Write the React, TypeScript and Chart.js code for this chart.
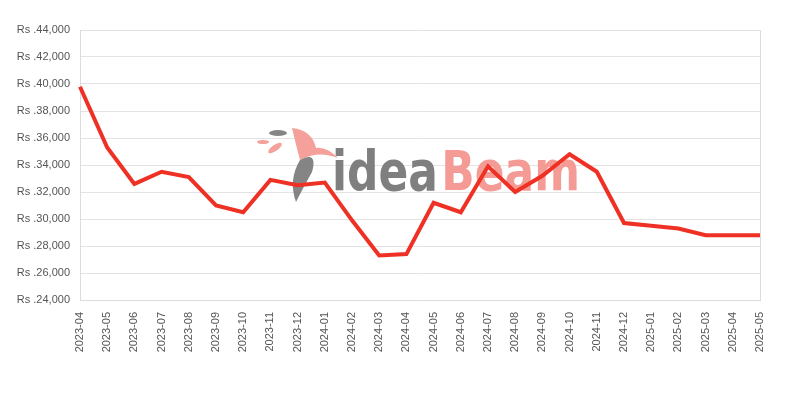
import React, { useEffect, useRef } from "react";
import { Chart, registerables } from "chart.js";

Chart.register(...registerables);

const months = [
  "2023-04", "2023-05", "2023-06", "2023-07", "2023-08", "2023-09", "2023-10",
  "2023-11", "2023-12", "2024-01", "2024-02", "2024-03", "2024-04", "2024-05",
  "2024-06", "2024-07", "2024-08", "2024-09", "2024-10", "2024-11", "2024-12",
  "2025-01", "2025-02", "2025-03", "2025-04", "2025-05",
];

const prices = [
  39800, 35300, 32600, 33500, 33100, 31000, 30500, 32900, 32500, 32700,
  29900, 27300, 27400, 31200, 30500, 33900, 32000, 33200, 34800, 33500,
  29700, 29500, 29300, 28800, 28800, 28800,
];

const yMin = 24000;
const yMax = 44000;
const yStep = 2000;

const watermark = {
  id: "watermark",
  beforeDatasetsDraw(chart: any) {
    const ctx = chart.ctx;
    ctx.save();
    ctx.font = "bold 56px 'DejaVu Sans Condensed', 'DejaVu Sans', sans-serif";
    ctx.textBaseline = "alphabetic";
    const a = "idea";
    const b = "Beam";
    const wa = ctx.measureText(a).width;
    const wb = ctx.measureText(b).width;
    const total = 248;
    const scale = total / (wa + wb + 4);
    const x0 = 332;
    const base = 190;
    ctx.translate(x0, base);
    ctx.scale(scale, 1);
    ctx.fillStyle = "rgba(120,120,120,0.95)";
    ctx.fillText(a, 0, 0);
    ctx.fillStyle = "rgba(244,150,143,0.95)";
    ctx.fillText(b, wa + 4, 0);
    ctx.restore();
    // simple bird mark
    ctx.save();
    ctx.fillStyle = "rgba(244,150,143,0.9)";
    ctx.beginPath();
    ctx.moveTo(292, 128);
    ctx.quadraticCurveTo(312, 130, 316, 148);
    ctx.quadraticCurveTo(326, 146, 338, 158);
    ctx.quadraticCurveTo(318, 150, 300, 160);
    ctx.quadraticCurveTo(296, 145, 292, 128);
    ctx.fill();
    ctx.fillStyle = "rgba(120,120,120,0.9)";
    ctx.beginPath();
    ctx.moveTo(300, 160);
    ctx.quadraticCurveTo(318, 150, 312, 172);
    ctx.quadraticCurveTo(302, 190, 296, 202);
    ctx.quadraticCurveTo(288, 180, 300, 160);
    ctx.fill();
    ctx.beginPath();
    ctx.ellipse(278, 133, 9, 3, 0, 0, Math.PI * 2);
    ctx.fill();
    ctx.fillStyle = "rgba(244,150,143,0.9)";
    ctx.beginPath();
    ctx.ellipse(275, 148, 8, 3, -0.6, 0, Math.PI * 2);
    ctx.fill();
    ctx.beginPath();
    ctx.ellipse(263, 142, 6, 2, 0, 0, Math.PI * 2);
    ctx.fill();
    ctx.restore();
  },
};

const frame = {
  id: "frame",
  beforeDatasetsDraw(chart: any) {
    const { ctx, chartArea } = chart;
    ctx.save();
    ctx.strokeStyle = "#dcdcdc";
    ctx.lineWidth = 1;
    ctx.beginPath();
    ctx.moveTo(Math.round(chartArea.right) + 0.5, chartArea.top);
    ctx.lineTo(Math.round(chartArea.right) + 0.5, chartArea.bottom);
    ctx.stroke();
    ctx.restore();
  },
};

const tickFont = { size: 11, family: "'Liberation Sans', Arial, sans-serif" };

export default function App() {
  const ref = useRef<HTMLCanvasElement>(null);
  useEffect(() => {
    if (!ref.current) return;
    const chart = new Chart(ref.current, {
      type: "line",
      data: {
        labels: months,
        datasets: [
          {
            data: prices,
            borderColor: "#ee3124",
            borderWidth: 4,
            pointRadius: 0,
            tension: 0,
            fill: false,
          },
        ],
      },
      plugins: [watermark, frame],
      options: {
        animation: false,
        responsive: false,
        maintainAspectRatio: false,
        layout: { padding: { left: 0, right: 40, top: 30, bottom: 0 } },
        plugins: { legend: { display: false }, tooltip: { enabled: false } },
        scales: {
          x: {
            offset: false,
            grid: { display: true, drawOnChartArea: false, drawTicks: false, color: "#dcdcdc" },
            border: { color: "#dcdcdc" },
            ticks: {
              maxRotation: 90,
              minRotation: 90,
              autoSkip: false,
              color: "#555",
              padding: 12,
              font: tickFont,
            },
            afterFit(scale: any) {
              scale.height = 100;
            },
          },
          y: {
            min: yMin,
            max: yMax,
            grid: { color: "#e3e3e3", drawTicks: false },
            border: { color: "#dcdcdc" },
            ticks: {
              stepSize: yStep,
              color: "#555",
              padding: 10,
              font: tickFont,
              callback: (v: any) => "Rs ." + Number(v).toLocaleString("en-US"),
            },
            afterFit(scale: any) {
              scale.width = 80;
            },
          },
        },
      },
    });
    return () => chart.destroy();
  }, []);
  return (
    <div style={{ position: "absolute", left: 0, top: 0, width: 800, height: 400, background: "#fff" }}>
      <canvas ref={ref} width={800} height={400} style={{ width: 800, height: 400 }} />
    </div>
  );
}
